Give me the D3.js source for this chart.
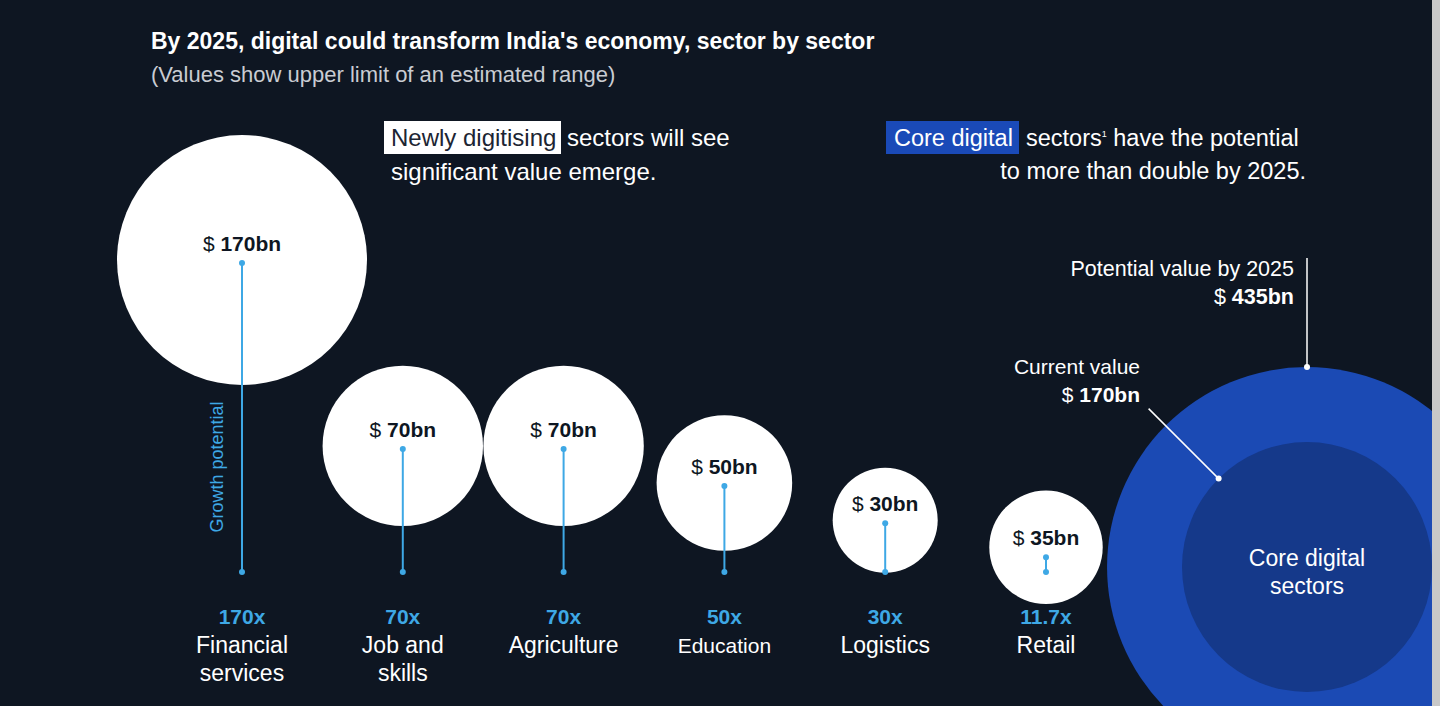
<!DOCTYPE html>
<html>
<head>
<meta charset="utf-8">
<script src="https://cdn.jsdelivr.net/npm/d3@7"></script>
<style>
  html, body { margin: 0; padding: 0; background: #0e1622; overflow: hidden; }
  svg { display: block; font-family: "Liberation Sans", Arial, sans-serif; }
</style>
</head>
<body>
<svg id="chart" width="1440" height="706"></svg>
<script>
// ---- data ----
const categories = ["Financial services", "Job and skills", "Agriculture", "Education", "Logistics", "Retail"];
const nameLines = [["Financial", "services"], ["Job and", "skills"], ["Agriculture"], ["Education"], ["Logistics"], ["Retail"]];
const values = [170, 70, 70, 50, 30, 35];            // $ bn, upper limit
const growth = [170, 70, 70, 50, 30, 11.7];          // growth potential (x)
const growthLabels = ["170x", "70x", "70x", "50x", "30x", "11.7x"];
const coreCurrent = 170;
const corePotential = 435;

// ---- style ----
const BG = "#0e1622", BLUE = "#3ea8e5", WHITE = "#ffffff";
const OUTER = "#1b4ab4", INNER = "#15398a";

const svg = d3.select("#chart");
svg.append("rect").attr("width", 1440).attr("height", 706).attr("fill", BG);

// scales
const x = d3.scalePoint().domain(categories).range([242, 1046]);
const r = d3.scaleSqrt().domain([0, 170]).range([0, 125]);
const yG = d3.scaleLinear().domain([0, 170]).range([579, 263]);
const baseY = 572;

// title
svg.append("text").attr("x", 151).attr("y", 49).attr("fill", WHITE)
  .attr("font-size", 23).attr("font-weight", "bold")
  .text("By 2025, digital could transform India's economy, sector by sector");
svg.append("text").attr("x", 151).attr("y", 82).attr("fill", "#c9ccd2")
  .attr("font-size", 22)
  .text("(Values show upper limit of an estimated range)");

// annotation left
svg.append("rect").attr("x", 384).attr("y", 121).attr("width", 177).attr("height", 33).attr("fill", WHITE);
const a1 = svg.append("text").attr("x", 391).attr("y", 146).attr("font-size", 24).attr("fill", WHITE);
a1.append("tspan").attr("fill", "#1c2533").text("Newly digitising");
a1.append("tspan").attr("x", 567).text("sectors will see");
svg.append("text").attr("x", 391).attr("y", 180).attr("font-size", 24).attr("fill", WHITE)
  .text("significant value emerge.");

// annotation right
svg.append("rect").attr("x", 886).attr("y", 121).attr("width", 133).attr("height", 33).attr("fill", "#1a4ab8");
const a2 = svg.append("text").attr("x", 894).attr("y", 146).attr("font-size", 23.5).attr("fill", WHITE);
a2.append("tspan").text("Core digital");
a2.append("tspan").attr("x", 1026).text("sectors");
a2.append("tspan").attr("font-size", 9).attr("dy", -9).text("1");
a2.append("tspan").attr("dy", 9).text(" have the potential");
svg.append("text").attr("x", 1306).attr("y", 179).attr("font-size", 23.5).attr("fill", WHITE)
  .attr("text-anchor", "end").text("to more than double by 2025.");

// sector bubbles
const rows = categories.map((c, i) => ({
  c, lines: nameLines[i], v: values[i], g: growth[i], gl: growthLabels[i]
}));

const g = svg.append("g");
const items = g.selectAll("g.item").data(rows).join("g").attr("class", "item");

items.append("circle")
  .attr("cx", d => x(d.c))
  .attr("cy", d => Math.min(yG(d.g) - 3, 604 - r(d.v)))
  .attr("r", d => r(d.v))
  .attr("fill", WHITE);

items.append("line")
  .attr("x1", d => x(d.c)).attr("x2", d => x(d.c))
  .attr("y1", d => yG(d.g)).attr("y2", baseY)
  .attr("stroke", BLUE).attr("stroke-width", 2);
items.append("circle").attr("cx", d => x(d.c)).attr("cy", d => yG(d.g)).attr("r", 3).attr("fill", BLUE);
items.append("circle").attr("cx", d => x(d.c)).attr("cy", baseY).attr("r", 3).attr("fill", BLUE);

const vt = items.append("text")
  .attr("x", d => x(d.c))
  .attr("y", d => yG(d.g) - 12)
  .attr("text-anchor", "middle").attr("font-size", 21).attr("fill", BG);
vt.append("tspan").text("$ ");
vt.append("tspan").attr("font-weight", "bold").text(d => d.v + "bn");

items.append("text")
  .attr("x", d => x(d.c)).attr("y", 624)
  .attr("text-anchor", "middle").attr("font-size", 21).attr("font-weight", "bold")
  .attr("fill", BLUE).text(d => d.gl);

items.append("text")
  .attr("x", d => x(d.c)).attr("y", 653)
  .attr("text-anchor", "middle")
  .attr("font-size", d => d.c === "Education" ? 21 : 23)
  .attr("fill", WHITE)
  .selectAll("tspan").data(d => d.lines).join("tspan")
  .attr("x", function () { return d3.select(this.parentNode).attr("x"); })
  .attr("dy", (d, i) => i === 0 ? 0 : 28)
  .text(d => d);

// growth potential label
svg.append("text")
  .attr("transform", "translate(223, 467) rotate(-90)")
  .attr("text-anchor", "middle").attr("font-size", 18).attr("fill", BLUE)
  .text("Growth potential");

// core digital circles
const cx = 1307, cy = 567;
svg.append("circle").attr("cx", cx).attr("cy", cy).attr("r", r(corePotential)).attr("fill", OUTER);
svg.append("circle").attr("cx", cx).attr("cy", cy).attr("r", r(coreCurrent)).attr("fill", INNER);
svg.append("text").attr("x", cx).attr("y", 566).attr("text-anchor", "middle").attr("font-size", 23)
  .attr("fill", WHITE).text("Core digital");
svg.append("text").attr("x", cx).attr("y", 594).attr("text-anchor", "middle").attr("font-size", 23)
  .attr("fill", WHITE).text("sectors");

// potential leader
const pTop = cy - r(corePotential);
svg.append("line").attr("x1", cx).attr("x2", cx).attr("y1", pTop).attr("y2", 258)
  .attr("stroke", WHITE).attr("stroke-width", 1.5);
svg.append("circle").attr("cx", cx).attr("cy", pTop).attr("r", 3).attr("fill", WHITE);
svg.append("text").attr("x", 1294).attr("y", 276).attr("text-anchor", "end").attr("font-size", 21.5)
  .attr("fill", WHITE).text("Potential value by 2025");
const pv = svg.append("text").attr("x", 1294).attr("y", 304).attr("text-anchor", "end").attr("font-size", 21.5).attr("fill", WHITE);
pv.append("tspan").text("$ ");
pv.append("tspan").attr("font-weight", "bold").text(corePotential + "bn");

// current leader
const ang = Math.PI / 4;
const ci = r(coreCurrent);
const d0x = cx - ci * Math.cos(ang), d0y = cy - ci * Math.sin(ang);
const d1x = cx - 224 * Math.cos(ang), d1y = cy - 224 * Math.sin(ang);
svg.append("line").attr("x1", d0x).attr("y1", d0y).attr("x2", d1x).attr("y2", d1y)
  .attr("stroke", WHITE).attr("stroke-width", 1.5);
svg.append("circle").attr("cx", d0x).attr("cy", d0y).attr("r", 3).attr("fill", WHITE);
svg.append("text").attr("x", 1140).attr("y", 374).attr("text-anchor", "end").attr("font-size", 21)
  .attr("fill", WHITE).text("Current value");
const cv = svg.append("text").attr("x", 1140).attr("y", 402).attr("text-anchor", "end").attr("font-size", 21).attr("fill", WHITE);
cv.append("tspan").text("$ ");
cv.append("tspan").attr("font-weight", "bold").text(coreCurrent + "bn");

// right edge strip
svg.append("rect").attr("x", 1432).attr("y", 0).attr("width", 8).attr("height", 706).attr("fill", "#c8c8c8");
</script>
</body>
</html>
